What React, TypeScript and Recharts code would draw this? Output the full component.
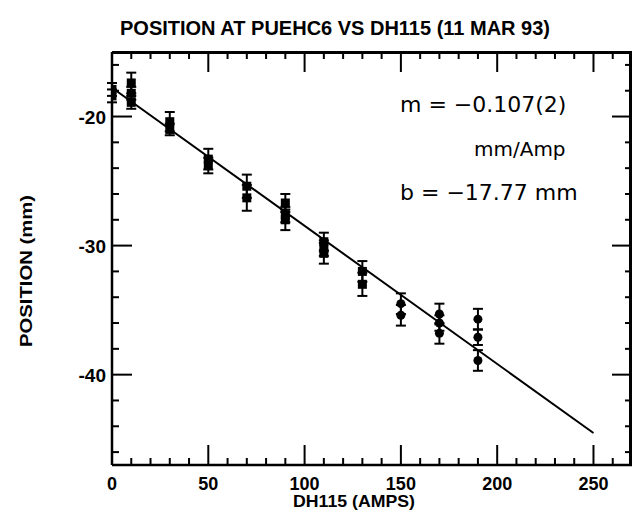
import { ScatterChart, Scatter, XAxis, YAxis, ErrorBar, ReferenceLine } from 'recharts';

// DH115 current (A) for each measured point
const currents = [0, 0, 10, 10, 10, 30, 30, 50, 50, 70, 70, 90, 90, 90, 110, 110, 110, 130, 130, 150, 150, 170, 170, 170, 190, 190, 190];
// beam position at PUEHC6 (mm)
const positions = [-17.9, -18.4, -17.4, -18.2, -18.9, -20.4, -21.0, -23.3, -23.8, -25.4, -26.3, -26.7, -27.6, -28.0, -29.7, -30.2, -30.6, -32.0, -33.0, -34.5, -35.4, -35.3, -36.0, -36.8, -35.7, -37.1, -38.9];
const errors = [0.5, 0.5, 0.8, 0.5, 0.5, 0.75, 0.45, 0.8, 0.6, 0.9, 1.0, 0.7, 0.6, 0.8, 0.7, 0.6, 0.8, 0.8, 0.9, 0.8, 0.8, 0.8, 0.6, 0.8, 0.8, 0.6, 0.8];

// linear fit: m = -0.107 mm/A, b = -17.77 mm
const fitCurrents = [0, 250];
const fitPositions = [-17.77, -44.52];

const xTicks = [0, 10, 20, 30, 40, 50, 60, 70, 80, 90, 100, 110, 120, 130, 140, 150, 160, 170, 180, 190, 200, 210, 220, 230, 240, 250, 260];
const xLabels = [0, 50, 100, 150, 200, 250];
const yTicks = [-46, -44, -42, -40, -38, -36, -34, -32, -30, -28, -26, -24, -22, -20, -18, -16];
const yLabels = [-20, -30, -40];

const X_MIN = 0;
const X_MAX = 270;
const Y_MIN = -47;
const Y_MAX = -15;

// plot box in px (chart 644x523 minus margins and axis sizes)
const PLOT_LEFT = 112;
const PLOT_TOP = 52;
const PLOT_W = 520;
const PLOT_H = 413;

const data = currents.map((x, i) => ({ x, y: positions[i], err: errors[i] }));
const FONT = '"Liberation Sans", Arial, sans-serif';
const HAND = '"DejaVu Sans", sans-serif';

// bottom axis tick, plus the mirrored one on the top edge
function BottomTick(props: any) {
  const x = Number(props.x);
  const y = Number(props.y);
  const v = props.payload.value;
  const major = xLabels.includes(v);
  const len = major ? 20 : 7;
  const top = y - PLOT_H;
  return (
    <g>
      <line x1={x} x2={x} y1={y} y2={y - len} stroke="#000" strokeWidth={2} />
      {v !== X_MIN && <line x1={x} x2={x} y1={top} y2={top + len} stroke="#000" strokeWidth={2} />}
      {major && (
        <text x={x} y={y + 25} textAnchor="middle" fontSize={18} fontWeight="bold" fontFamily={FONT} fill="#000">
          {v}
        </text>
      )}
    </g>
  );
}

// left axis tick, plus the mirrored one on the right edge
function LeftTick(props: any) {
  const x = Number(props.x);
  const y = Number(props.y);
  const v = props.payload.value;
  const major = yLabels.includes(v);
  const len = major ? 20 : 7;
  const right = x + PLOT_W;
  return (
    <g>
      <line x1={x} x2={x + len} y1={y} y2={y} stroke="#000" strokeWidth={2} />
      <line x1={right} x2={right - len} y1={y} y2={y} stroke="#000" strokeWidth={2} />
      {major && (
        <text x={x - 6} y={y + 7} textAnchor="end" fontSize={19} fontWeight="bold" fontFamily={FONT} fill="#000">
          {v}
        </text>
      )}
    </g>
  );
}

function Marker(props: any) {
  const { cx, cy, payload } = props;
  if (payload.x >= 150) return <circle cx={cx} cy={cy} r={4.5} fill="#000" />;
  return <rect x={cx - 4.5} y={cy - 4.5} width={9} height={9} fill="#000" />;
}

export default function App() {
  return (
    <div style={{ position: 'relative', width: 644, height: 523, margin: -8, background: '#fff' }}>
      <ScatterChart width={644} height={523} margin={{ top: PLOT_TOP, right: 644 - PLOT_LEFT - PLOT_W, bottom: 0, left: 0 }}>
        <XAxis
          type="number"
          dataKey="x"
          domain={[X_MIN, X_MAX]}
          allowDataOverflow
          ticks={xTicks}
          interval={0}
          tick={(p: any) => <BottomTick {...p} />}
          tickSize={0}
          tickMargin={0}
          height={523 - PLOT_TOP - PLOT_H}
          axisLine={{ stroke: '#000', strokeWidth: 2.5 }}
        />
        <YAxis
          type="number"
          dataKey="y"
          domain={[Y_MIN, Y_MAX]}
          allowDataOverflow
          ticks={yTicks}
          interval={0}
          tick={(p: any) => <LeftTick {...p} />}
          tickSize={0}
          tickMargin={0}
          width={PLOT_LEFT}
          axisLine={{ stroke: '#000', strokeWidth: 2.5 }}
        />
        <ReferenceLine
          segment={[
            { x: fitCurrents[0], y: fitPositions[0] },
            { x: fitCurrents[1], y: fitPositions[1] },
          ]}
          stroke="#000"
          strokeWidth={2}
        />
        <Scatter data={data} shape={(p: any) => <Marker {...p} />} isAnimationActive={false}>
          <ErrorBar dataKey="err" direction="y" width={5} stroke="#000" strokeWidth={2} isAnimationActive={false} />
        </Scatter>
      </ScatterChart>
      {/* top and right edges of the plot box as a plain bordered div */}
      <div
        style={{
          position: 'absolute',
          left: PLOT_LEFT,
          top: PLOT_TOP - 1,
          width: PLOT_W,
          height: PLOT_H,
          borderTop: '3px solid #000',
          borderRight: '3px solid #000',
          boxSizing: 'border-box',
          pointerEvents: 'none',
        }}
      />
      <svg width={644} height={523} style={{ position: 'absolute', left: 0, top: 0, pointerEvents: 'none' }}>
        <text x={120} y={35} fontSize={20} fontWeight="bold" fontFamily={FONT} textLength={430} lengthAdjust="spacingAndGlyphs" fill="#000">
          POSITION AT PUEHC6 VS DH115 (11 MAR 93)
        </text>
        <text x={354} y={507} textAnchor="middle" fontSize={17} fontWeight="bold" fontFamily={FONT} textLength={122} lengthAdjust="spacingAndGlyphs" fill="#000">
          DH115 (AMPS)
        </text>
        <text
          x={0}
          y={0}
          transform="translate(32 271) rotate(-90)"
          textAnchor="middle"
          fontSize={17}
          fontWeight="bold"
          fontFamily={FONT}
          textLength={152}
          lengthAdjust="spacingAndGlyphs"
          fill="#000"
        >
          POSITION (mm)
        </text>
        <text x={400} y={112} fontSize={22} fontFamily={HAND} fill="#000">m = −0.107(2)</text>
        <text x={474} y={156} fontSize={20} fontFamily={HAND} fill="#000">mm/Amp</text>
        <text x={400} y={200} fontSize={22} fontFamily={HAND} fill="#000">b = −17.77 mm</text>
      </svg>
    </div>
  );
}
